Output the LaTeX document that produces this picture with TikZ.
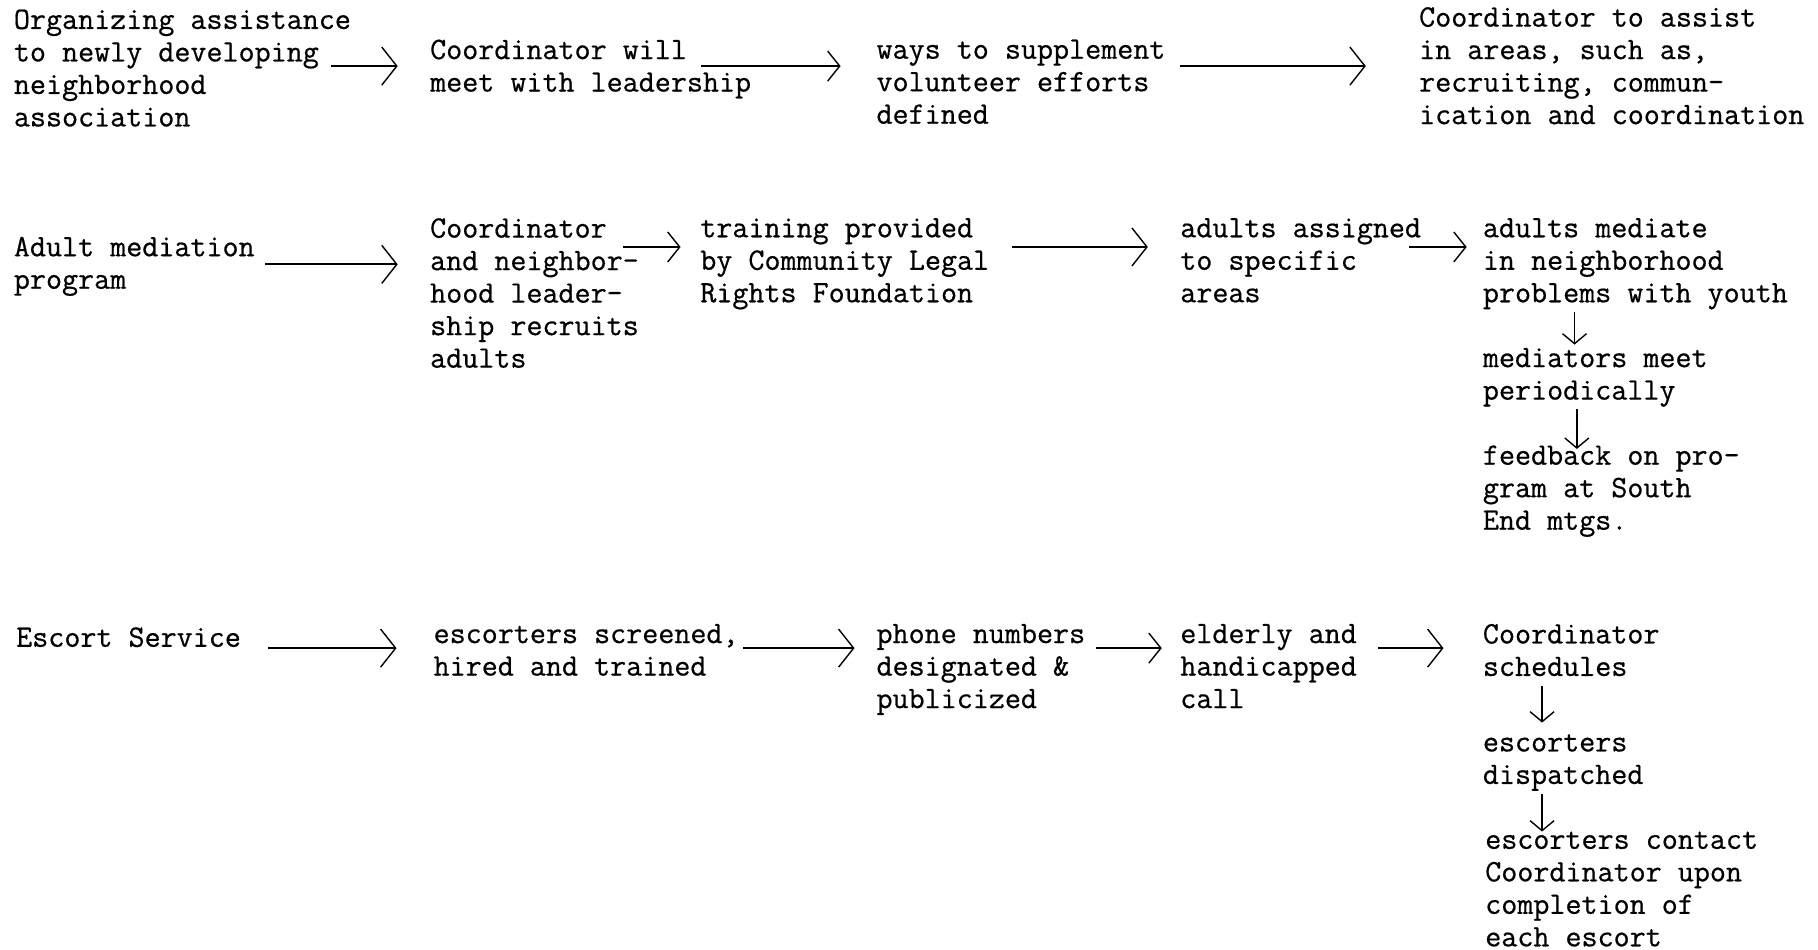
\documentclass[tikz,border=0pt]{standalone}
\usepackage{fontspec}
\newfontfamily\typew{Latin Modern Mono}[FakeBold=0.6]
\usetikzlibrary{arrows.meta,calc}
\begin{document}
\begin{tikzpicture}[x=0.5797pt,y=-0.5797pt,
  txt/.style={anchor=north west,inner sep=0pt,outer sep=0pt,align=left,
    font=\typew\fontsize{15.58pt}{16.25pt}\selectfont,
    execute at begin node=\strut, execute at end node=\strut},
  arr/.style={line width=1pt,-{Straight Barb[length=7.5pt,width=19pt,line width=0.7pt]}},
  arrs/.style={line width=1pt,-{Straight Barb[length=6pt,width=15pt,line width=0.7pt]}},
  arrv/.style={line width=0.8pt,-{Straight Barb[length=5pt,width=12pt,line width=0.7pt]}}]
\fill[white] (0,0) rectangle (1568,819);
\useasboundingbox (0,0) rectangle (1568,819);

% row 1
\node[txt] (A1) at (12,8.2) {Organizing assistance\\to newly developing\\neighborhood\\association};
\node[txt] (A2) at (371,34.2) {Coordinator will\\meet with leadership};
\node[txt] (A3) at (756,34.2) {ways to supplement\\volunteer efforts\\defined};
\node[txt] (A4) at (1224,6.2) {Coordinator to assist\\in areas, such as,\\recruiting, commun-\\ication and coordination};

% row 2
\node[txt] (B1) at (12,204.2) {Adult mediation\\program};
\node[txt] (B2) at (371,188.2) {Coordinator\\and neighbor-\\hood leader-\\ship recruits\\adults};
\node[txt] (B3) at (604,188.2) {training provided\\by Community Legal\\Rights Foundation};
\node[txt] (B4) at (1018,188.2) {adults assigned\\to specific\\areas};
\node[txt] (B5) at (1279,188.2) {adults mediate\\in neighborhood\\problems with youth};
\node[txt] (B6) at (1279,300.2) {mediators meet\\periodically};
\node[txt] (B7) at (1279,384.2) {feedback on pro-\\gram at South\\End mtgs.};

% row 3
\node[txt] (C1) at (14,538.2) {Escort Service};
\node[txt] (C2) at (374,538.2) {escorters screened,\\hired and trained};
\node[txt] (C3) at (756,538.2) {phone numbers\\designated \&\\publicized};
\node[txt] (C4) at (1018,538.2) {elderly and\\handicapped\\call};
\node[txt] (C5) at (1279,538.2) {Coordinator\\schedules};
\node[txt] (C6) at (1279,633.2) {escorters\\dispatched};
\node[txt] (C7) at (1281,717.2) {escorters contact\\Coordinator upon\\completion of\\each escort};

\coordinate (r1) at (0,57);
\coordinate (r2a) at (0,228);
\coordinate (r2b) at (0,213);
\coordinate (r3) at (0,559);

% row 1 connectors
\draw[arr] ($(A1.east|-r1)+(-17,0)$) -- ($(A2.west|-r1)+(-28,0)$);
\draw[arrs] ($(A2.east|-r1)+(-43,0)$) -- ($(A3.west|-r1)+(-31,0)$);
\draw[arr] ($(A3.east|-r1)+(13,0)$) -- ($(A4.west|-r1)+(-46,0)$);

% row 2 connectors
\draw[arr] ($(B1.east|-r2a)+(9,0)$) -- ($(B2.west|-r2a)+(-28,0)$);
\draw[arrs] ($(B2.east|-r2b)+(-14,0)$) -- ($(B3.west|-r2b)+(-17,0)$);
\draw[arr] ($(B3.east|-r2b)+(20,0)$) -- ($(B4.west|-r2b)+(-28,0)$);
\draw[arrs] ($(B4.east|-r2b)+(-10,0)$) -- ($(B5.west|-r2b)+(-14,0)$);
\draw[arrv] ($(B5.south west)+(79,0)$) -- ($(B6.north west)+(79,-3)$);
\draw[arrv] ($(B6.south west)+(81,0)$) -- ($(B7.north west)+(81,3)$);

% row 3 connectors
\draw[arr] ($(C1.east|-r3)+(23,0)$) -- ($(C2.west|-r3)+(-32,0)$);
\draw[arr] ($(C2.east|-r3)+(4,0)$) -- ($(C3.west|-r3)+(-19,0)$);
\draw[arrs] ($(C3.east|-r3)+(9,0)$) -- ($(C4.west|-r3)+(-16,0)$);
\draw[arr] ($(C4.east|-r3)+(18,0)$) -- ($(C5.west|-r3)+(-34,0)$);
\draw[arrv] ($(C5.south west)+(51,0)$) -- ($(C6.north west)+(51,-10)$);
\draw[arrv] ($(C6.south west)+(51,0)$) -- ($(C7.north west)+(49,0)$);
\end{tikzpicture}
\end{document}
